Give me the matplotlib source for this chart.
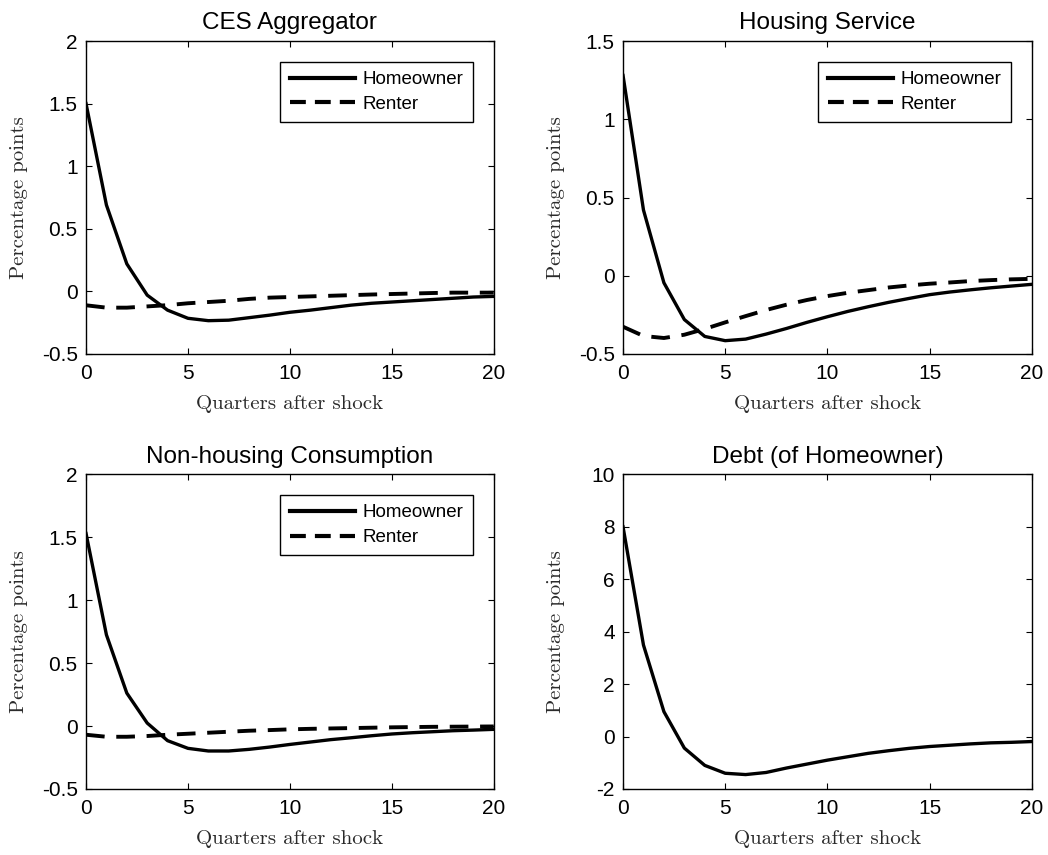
import matplotlib
matplotlib.use("Agg")
import matplotlib.pyplot as plt
from matplotlib.ticker import FuncFormatter

# Impulse responses, quarters 0..20
quarters = list(range(21))

ces_owner = [1.50, 0.69, 0.22, -0.03, -0.15, -0.215, -0.234, -0.23, -0.21, -0.19, -0.167,
             -0.15, -0.13, -0.11, -0.095, -0.085, -0.075, -0.065, -0.055, -0.045, -0.04]
ces_renter = [-0.111, -0.13, -0.13, -0.12, -0.11, -0.095, -0.085, -0.075, -0.06, -0.05, -0.045,
              -0.04, -0.035, -0.03, -0.025, -0.021, -0.017, -0.013, -0.01, -0.01, -0.01]

housing_owner = [1.28, 0.42, -0.045, -0.28, -0.388, -0.415, -0.405, -0.373, -0.337, -0.298, -0.262,
                 -0.228, -0.198, -0.17, -0.145, -0.121, -0.104, -0.09, -0.077, -0.066, -0.055]
housing_renter = [-0.326, -0.385, -0.398, -0.377, -0.34, -0.298, -0.258, -0.219, -0.185, -0.155, -0.13,
                  -0.109, -0.092, -0.075, -0.062, -0.051, -0.043, -0.034, -0.028, -0.023, -0.02]

nonhousing_owner = [1.53, 0.725, 0.262, 0.024, -0.116, -0.177, -0.198, -0.198, -0.185, -0.167, -0.146,
                    -0.127, -0.108, -0.093, -0.077, -0.063, -0.053, -0.045, -0.037, -0.032, -0.026]
nonhousing_renter = [-0.069, -0.085, -0.085, -0.079, -0.069, -0.061, -0.053, -0.045, -0.037, -0.032, -0.026,
                     -0.022, -0.019, -0.016, -0.013, -0.01, -0.008, -0.006, -0.005, -0.004, -0.003]

debt_owner = [8.0, 3.49, 0.95, -0.44, -1.10, -1.40, -1.45, -1.37, -1.20, -1.05, -0.90,
              -0.77, -0.64, -0.54, -0.45, -0.38, -0.33, -0.28, -0.24, -0.22, -0.19]

titles = ["CES Aggregator", "Housing Service", "Non-housing Consumption", "Debt (of Homeowner)"]
owner_series = [ces_owner, housing_owner, nonhousing_owner, debt_owner]
renter_series = [ces_renter, housing_renter, nonhousing_renter, None]
yticks = [[-0.5, 0, 0.5, 1, 1.5, 2],
          [-0.5, 0, 0.5, 1, 1.5],
          [-0.5, 0, 0.5, 1, 1.5, 2],
          [-2, 0, 2, 4, 6, 8, 10]]
xticks = [0, 5, 10, 15, 20]

plt.rcParams["font.family"] = ["Liberation Sans", "DejaVu Sans"]
plt.rcParams["axes.unicode_minus"] = False

fig = plt.figure(figsize=(10.48, 8.55), dpi=100)

# axes boxes in figure fractions (left, bottom, width, height)
boxes = [(0.0821, 0.586, 0.389, 0.366),
         (0.5945, 0.586, 0.390, 0.366),
         (0.0821, 0.0772, 0.389, 0.368),
         (0.5945, 0.0772, 0.390, 0.368)]

label_color = "#2a2a2a"

for i in range(4):
    ax = fig.add_axes(boxes[i])
    ax.plot(quarters, owner_series[i], color="black", lw=2.4, label="Homeowner",
            solid_joinstyle="round")
    if renter_series[i] is not None:
        ax.plot(quarters, renter_series[i], color="black", lw=2.8, dashes=(4.8, 3.0),
                label="Renter")
        leg = ax.legend(loc="upper right", fontsize=13.5, fancybox=False, edgecolor="black",
                        framealpha=1, handlelength=3.5, borderaxespad=1.1,
                        labelspacing=0.4, handletextpad=0.4, borderpad=0.5)
        leg.get_frame().set_linewidth(1.0)
        # thicker legend handles, three full dashes for the renter sample
        for h in leg.get_lines():
            h.set_linewidth(3.0)
        leg.get_lines()[1].set_dashes((3.8, 2.175))

    ax.set_xlim(0, 20)
    ax.set_ylim(yticks[i][0], yticks[i][-1])
    ax.set_xticks(xticks)
    ax.set_yticks(yticks[i])
    ax.yaxis.set_major_formatter(FuncFormatter(lambda v, p: "%g" % v))
    ax.tick_params(direction="in", length=4, width=0.8, top=True, right=True,
                   labelsize=15, colors="black")
    ax.tick_params(axis="x", pad=7)
    ax.tick_params(axis="y", pad=6)
    for s in ax.spines.values():
        s.set_linewidth(1.0)
        s.set_color("black")

    ax.set_title(titles[i], fontsize=17.5, pad=8.5)
    ax.set_xlabel("Quarters after shock", family="cmr10", fontsize=15, color=label_color)
    ax.set_ylabel("Percentage points", family="cmr10", fontsize=15, color=label_color)
    ax.xaxis.set_label_coords(0.5, -0.13)
    ax.yaxis.set_label_coords(-0.142, 0.5)

fig.savefig("out.png", dpi=100, facecolor="white")
